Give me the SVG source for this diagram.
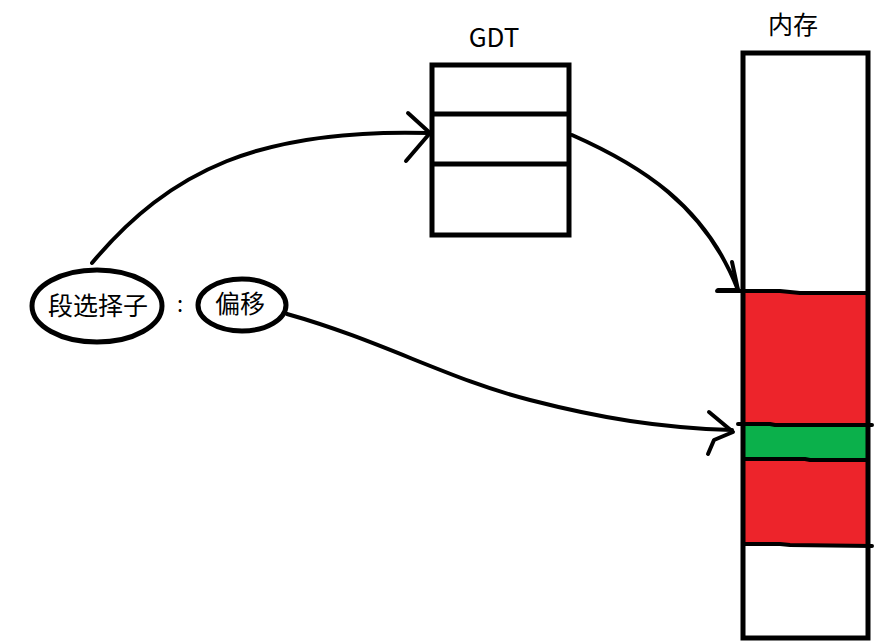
<svg xmlns="http://www.w3.org/2000/svg" width="885" height="644" viewBox="0 0 885 644">
<style>
.s{fill:none;stroke:#000;stroke-width:4;stroke-linecap:round;stroke-linejoin:round}
.b{fill:none;stroke:#000;stroke-width:5}
.t{font-family:"Noto Sans CJK SC","Liberation Sans",sans-serif;fill:#000}
</style>
<rect width="885" height="644" fill="#fff"/>
<g id="gdt">
<text class="t" x="494" y="47" font-size="26" text-anchor="middle">GDT</text>
<rect class="b" x="432" y="65" width="137" height="170"/>
<line class="b" x1="432" y1="114" x2="569" y2="114"/>
<line class="b" x1="432" y1="164" x2="569" y2="164"/>
</g>
<g id="memory">
<text class="t" x="793" y="34" font-size="25" text-anchor="middle">内存</text>
<rect x="743" y="292" width="125" height="254" fill="#ed242b"/>
<rect x="743" y="425" width="125" height="34" fill="#0bb04b"/>
<rect class="b" x="743" y="53" width="125" height="585"/>
<path class="s" d="M717,291 L780,291 L800,293 L868,293"/>
<path class="s" d="M738,424 L770,424 L775,425 L840,425 L872,425"/>
<path class="s" d="M743,459 L805,459 L810,460 L866,460"/>
<path class="s" d="M743,544 L780,544 L790,545 L872,546"/>
</g>
<g id="selector">
<ellipse class="b" cx="97" cy="306" rx="65" ry="36"/>
<text class="t" x="98" y="315" font-size="25" text-anchor="middle">段选择子</text>
</g>
<g id="colon">
<text class="t" x="180" y="312" font-size="22" text-anchor="middle">:</text>
</g>
<g id="offset">
<ellipse class="b" cx="242" cy="305" rx="44" ry="26"/>
<text class="t" x="240" y="313" font-size="25" text-anchor="middle">偏移</text>
</g>
<g id="connectors">
<path class="s" d="M92,263 C170,170 260,128 430,133"/>
<path class="s" d="M408,113 L430,133 L406,161"/>
<path class="s" d="M572,135 C640,165 705,205 738,290"/>
<path class="s" d="M732,262 L738,290 L718,290"/>
<path class="s" d="M287,314 C380,340 450,380 530,400 C600,418 660,428 732,430"/>
<path class="s" d="M709,412 L733,432 L714,440 L708,454"/>
</g>
</svg>
